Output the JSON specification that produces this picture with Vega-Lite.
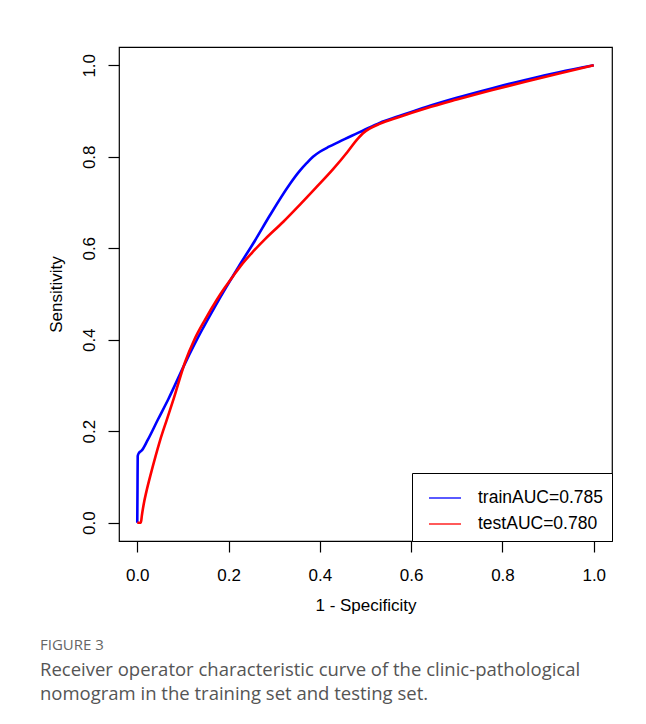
{
  "$schema": "https://vega.github.io/schema/vega-lite/v6.json",
  "autosize": "none",
  "width": 493,
  "height": 494,
  "padding": {"left": 119, "top": 47, "right": 34, "bottom": 183},
  "background": "white",
  "title": {
    "text": "FIGURE 3",
    "subtitle": ["Receiver operator characteristic curve of the clinic-pathological", "nomogram in the training set and testing set."],
    "orient": "bottom",
    "anchor": "start",
    "frame": "group",
    "dx": -79,
    "offset": 25,
    "font": "Open Sans",
    "fontSize": 15,
    "fontWeight": "normal",
    "color": "#666666",
    "subtitleFont": "Open Sans",
    "subtitleFontSize": 18.5,
    "subtitleColor": "#555555",
    "subtitleLineHeight": 24,
    "subtitlePadding": 8
  },
  "datasets": {
    "roc": [
      {"set": "trainAUC=0.785", "fpr": 0.0, "tpr": 0.0},
      {"set": "trainAUC=0.785", "fpr": 0.0005, "tpr": 0.07},
      {"set": "trainAUC=0.785", "fpr": 0.001, "tpr": 0.146},
      {"set": "trainAUC=0.785", "fpr": 0.004, "tpr": 0.153},
      {"set": "trainAUC=0.785", "fpr": 0.01, "tpr": 0.158},
      {"set": "trainAUC=0.785", "fpr": 0.023, "tpr": 0.181},
      {"set": "trainAUC=0.785", "fpr": 0.045, "tpr": 0.225},
      {"set": "trainAUC=0.785", "fpr": 0.068, "tpr": 0.27},
      {"set": "trainAUC=0.785", "fpr": 0.105, "tpr": 0.349},
      {"set": "trainAUC=0.785", "fpr": 0.14, "tpr": 0.418},
      {"set": "trainAUC=0.785", "fpr": 0.17, "tpr": 0.472},
      {"set": "trainAUC=0.785", "fpr": 0.195, "tpr": 0.515},
      {"set": "trainAUC=0.785", "fpr": 0.221, "tpr": 0.558},
      {"set": "trainAUC=0.785", "fpr": 0.258, "tpr": 0.617},
      {"set": "trainAUC=0.785", "fpr": 0.29, "tpr": 0.671},
      {"set": "trainAUC=0.785", "fpr": 0.334, "tpr": 0.740},
      {"set": "trainAUC=0.785", "fpr": 0.355, "tpr": 0.768},
      {"set": "trainAUC=0.785", "fpr": 0.371, "tpr": 0.786},
      {"set": "trainAUC=0.785", "fpr": 0.385, "tpr": 0.800},
      {"set": "trainAUC=0.785", "fpr": 0.4, "tpr": 0.811},
      {"set": "trainAUC=0.785", "fpr": 0.42, "tpr": 0.822},
      {"set": "trainAUC=0.785", "fpr": 0.443, "tpr": 0.833},
      {"set": "trainAUC=0.785", "fpr": 0.47, "tpr": 0.846},
      {"set": "trainAUC=0.785", "fpr": 0.494, "tpr": 0.857},
      {"set": "trainAUC=0.785", "fpr": 0.531, "tpr": 0.874},
      {"set": "trainAUC=0.785", "fpr": 0.574, "tpr": 0.889},
      {"set": "trainAUC=0.785", "fpr": 0.633, "tpr": 0.909},
      {"set": "trainAUC=0.785", "fpr": 0.7, "tpr": 0.929},
      {"set": "trainAUC=0.785", "fpr": 0.778, "tpr": 0.95},
      {"set": "trainAUC=0.785", "fpr": 0.85, "tpr": 0.968},
      {"set": "trainAUC=0.785", "fpr": 0.924, "tpr": 0.985},
      {"set": "trainAUC=0.785", "fpr": 1.0, "tpr": 1.0},
      {"set": "testAUC=0.780", "fpr": 0.0, "tpr": 0.0},
      {"set": "testAUC=0.780", "fpr": 0.008, "tpr": 0.0},
      {"set": "testAUC=0.780", "fpr": 0.01, "tpr": 0.015},
      {"set": "testAUC=0.780", "fpr": 0.014, "tpr": 0.04},
      {"set": "testAUC=0.780", "fpr": 0.02, "tpr": 0.068},
      {"set": "testAUC=0.780", "fpr": 0.03, "tpr": 0.108},
      {"set": "testAUC=0.780", "fpr": 0.04, "tpr": 0.145},
      {"set": "testAUC=0.780", "fpr": 0.05, "tpr": 0.18},
      {"set": "testAUC=0.780", "fpr": 0.065, "tpr": 0.226},
      {"set": "testAUC=0.780", "fpr": 0.08, "tpr": 0.272},
      {"set": "testAUC=0.780", "fpr": 0.105, "tpr": 0.352},
      {"set": "testAUC=0.780", "fpr": 0.125, "tpr": 0.4},
      {"set": "testAUC=0.780", "fpr": 0.148, "tpr": 0.443},
      {"set": "testAUC=0.780", "fpr": 0.174, "tpr": 0.487},
      {"set": "testAUC=0.780", "fpr": 0.192, "tpr": 0.514},
      {"set": "testAUC=0.780", "fpr": 0.21, "tpr": 0.539},
      {"set": "testAUC=0.780", "fpr": 0.227, "tpr": 0.562},
      {"set": "testAUC=0.780", "fpr": 0.253, "tpr": 0.592},
      {"set": "testAUC=0.780", "fpr": 0.28, "tpr": 0.620},
      {"set": "testAUC=0.780", "fpr": 0.32, "tpr": 0.658},
      {"set": "testAUC=0.780", "fpr": 0.356, "tpr": 0.695},
      {"set": "testAUC=0.780", "fpr": 0.39, "tpr": 0.731},
      {"set": "testAUC=0.780", "fpr": 0.429, "tpr": 0.773},
      {"set": "testAUC=0.780", "fpr": 0.46, "tpr": 0.810},
      {"set": "testAUC=0.780", "fpr": 0.48, "tpr": 0.836},
      {"set": "testAUC=0.780", "fpr": 0.494, "tpr": 0.851},
      {"set": "testAUC=0.780", "fpr": 0.51, "tpr": 0.862},
      {"set": "testAUC=0.780", "fpr": 0.531, "tpr": 0.872},
      {"set": "testAUC=0.780", "fpr": 0.574, "tpr": 0.887},
      {"set": "testAUC=0.780", "fpr": 0.633, "tpr": 0.906},
      {"set": "testAUC=0.780", "fpr": 0.7, "tpr": 0.925},
      {"set": "testAUC=0.780", "fpr": 0.778, "tpr": 0.946},
      {"set": "testAUC=0.780", "fpr": 0.85, "tpr": 0.964},
      {"set": "testAUC=0.780", "fpr": 0.924, "tpr": 0.982},
      {"set": "testAUC=0.780", "fpr": 1.0, "tpr": 1.0}
    ],
    "diag": [
      {"fpr": -0.04, "tpr": -0.04},
      {"fpr": 1.04, "tpr": 1.04}
    ]
  },
  "layer": [
    {
      "data": {"name": "diag"},
      "mark": {"type": "line", "color": "#BEBEBE", "strokeWidth": 1},
      "encoding": {
        "x": {"field": "fpr", "type": "quantitative"},
        "y": {"field": "tpr", "type": "quantitative"}
      }
    },
    {
      "data": {"name": "roc"},
      "transform": [{"filter": "datum.set === 'trainAUC=0.785'"}],
      "mark": {"type": "line", "strokeWidth": 2.6, "strokeJoin": "round", "strokeCap": "butt", "interpolate": "monotone"},
      "encoding": {
        "x": {"field": "fpr", "type": "quantitative"},
        "y": {"field": "tpr", "type": "quantitative"},
        "order": {"field": "fpr", "type": "quantitative"},
        "color": {"field": "set", "type": "nominal"}
      }
    },
    {
      "data": {"name": "roc"},
      "transform": [{"filter": "datum.set === 'testAUC=0.780'"}],
      "mark": {"type": "line", "strokeWidth": 2.6, "strokeJoin": "round", "strokeCap": "butt", "interpolate": "monotone"},
      "encoding": {
        "x": {"field": "fpr", "type": "quantitative"},
        "y": {"field": "tpr", "type": "quantitative"},
        "order": {"field": "fpr", "type": "quantitative"},
        "color": {"field": "set", "type": "nominal"}
      }
    }
  ],
  "encoding": {
    "x": {
      "field": "fpr", "type": "quantitative",
      "scale": {"domain": [-0.04, 1.04], "nice": false, "zero": false},
      "axis": {"title": "1 - Specificity", "values": [0, 0.2, 0.4, 0.6, 0.8, 1.0], "format": ".1f", "labelPadding": 15, "titlePadding": 14}
    },
    "y": {
      "field": "tpr", "type": "quantitative",
      "scale": {"domain": [-0.04, 1.04], "nice": false, "zero": false},
      "axis": {"title": "Sensitivity", "values": [0, 0.2, 0.4, 0.6, 0.8, 1.0], "format": ".1f", "labelAngle": 270, "labelAlign": "center", "labelBaseline": "alphabetic", "labelPadding": 14, "titlePadding": 15}
    },
    "color": {
      "field": "set", "type": "nominal",
      "scale": {"domain": ["trainAUC=0.785", "testAUC=0.780"], "range": ["#0000FF", "#FF0000"]},
      "legend": {
        "title": null,
        "orient": "bottom-right",
        "offset": 0,
        "strokeColor": "black",
        "fillColor": "white",
        "padding": 8,
        "symbolOffset": 8,
        "symbolType": "stroke",
        "symbolSize": 1024,
        "symbolStrokeWidth": 1.3,
        "labelFont": "Liberation Sans",
        "labelFontSize": 17.5,
        "labelColor": "black",
        "labelOffset": 16,
        "rowPadding": -8
      }
    }
  },
  "config": {
    "view": {"stroke": "black", "strokeWidth": 1.2},
    "axis": {
      "domain": false,
      "grid": false,
      "ticks": true,
      "tickColor": "black",
      "tickSize": 11,
      "tickWidth": 1.2,
      "labelFont": "Liberation Sans",
      "labelFontSize": 17,
      "labelColor": "black",
      "titleFont": "Liberation Sans",
      "titleFontSize": 17,
      "titleFontWeight": "normal",
      "titleColor": "black"
    }
  }
}
